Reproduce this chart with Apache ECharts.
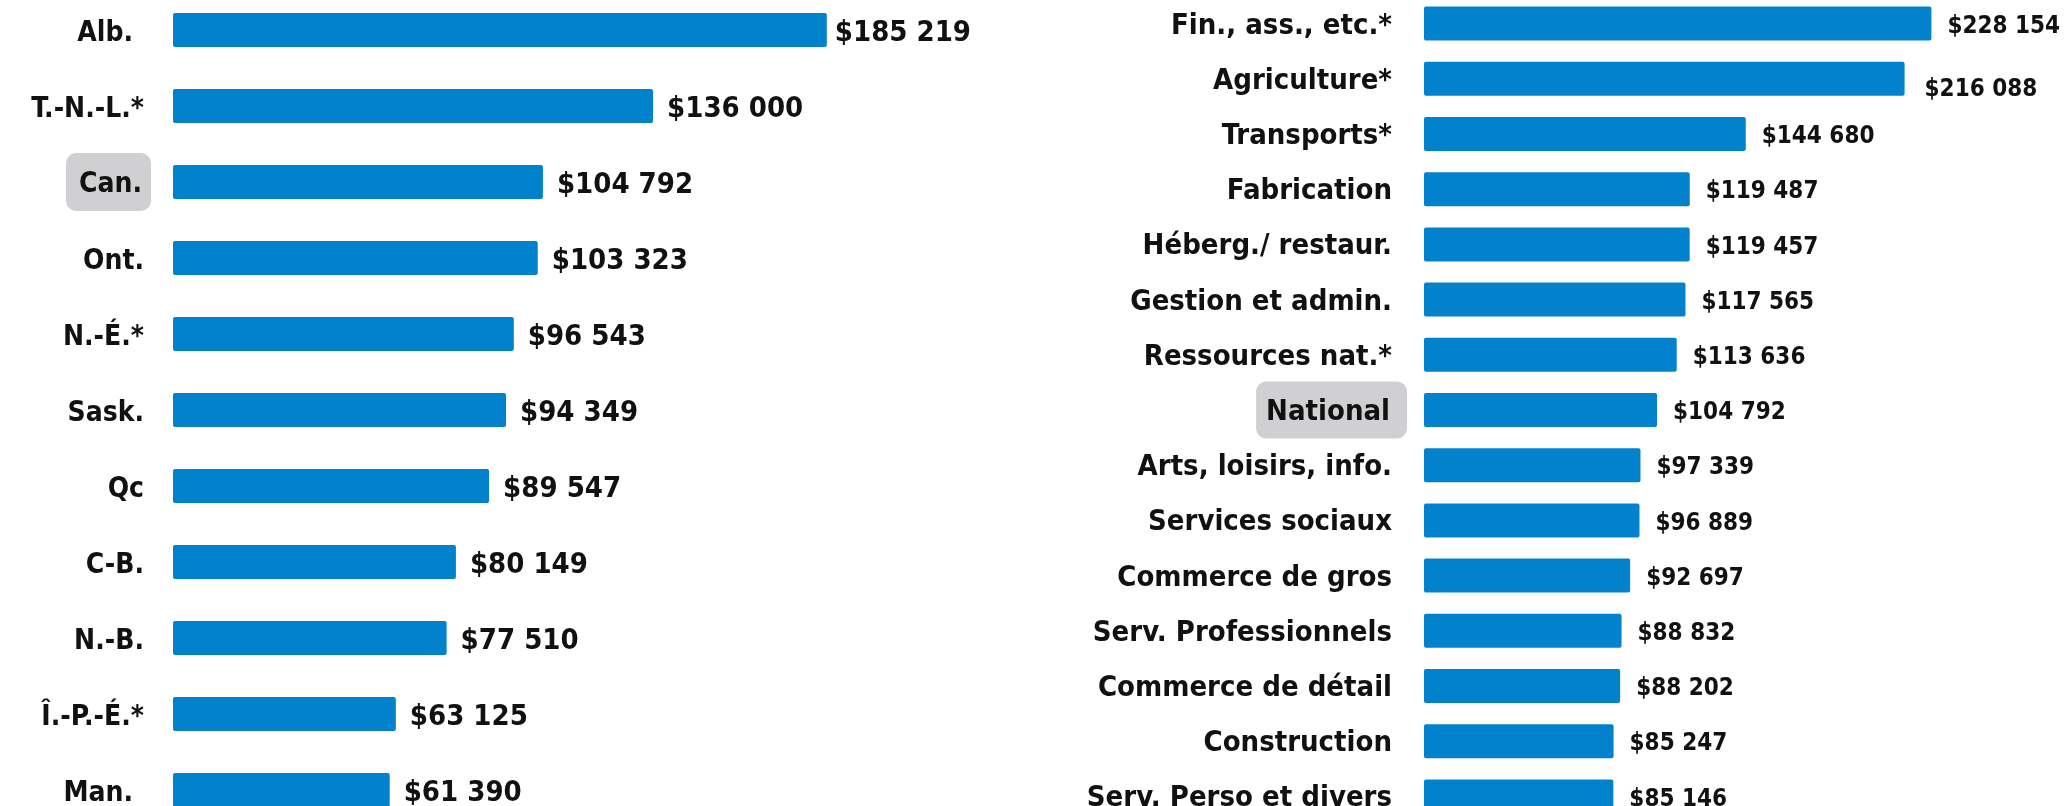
<!DOCTYPE html>
<html lang="fr">
<head>
<meta charset="UTF-8">
<title>Salaires</title>
<script src="https://cdn.jsdelivr.net/npm/echarts@6/dist/echarts.min.js"></script>
<style>
  html, body { margin: 0; padding: 0; background: #fff; }
  #main { width: 2069px; height: 806px; }
</style>
</head>
<body>
<div id="main"></div>
<script type="text/javascript">
// provinces (gauche)
var provinces = ['Alb.', 'T.-N.-L.*', 'Can.', 'Ont.', 'N.-É.*', 'Sask.', 'Qc', 'C-B.', 'N.-B.', 'Î.-P.-É.*', 'Man.'];
var provValues = [185219, 136000, 104792, 103323, 96543, 94349, 89547, 80149, 77510, 63125, 61390];

// secteurs (droite)
var secteurs = ['Fin., ass., etc.*', 'Agriculture*', 'Transports*', 'Fabrication', 'Héberg./ restaur.',
    'Gestion et admin.', 'Ressources nat.*', 'National', 'Arts, loisirs, info.', 'Services sociaux',
    'Commerce de gros', 'Serv. Professionnels', 'Commerce de détail', 'Construction', 'Serv. Perso et divers'];
var sectValues = [228154, 216088, 144680, 119487, 119457, 117565, 113636, 104792, 97339, 96889,
    92697, 88832, 88202, 85247, 85146];

var FONT = "'DejaVu Sans Condensed', 'DejaVu Sans', sans-serif";
var BLUE = '#0281cc';

function money(v) {
    return '$' + String(v).replace(/\B(?=(\d{3})+(?!\d))/g, ' ');
}

var myChart = echarts.init(document.getElementById('main'));

var leftData = provValues.map(function (v, i) {
    var d = { value: v };
    if (i === 0) d.label = { distance: 8 };
    return d;
});
var rightData = sectValues.map(function (v, i) {
    var d = { value: v };
    if (i === 1) d.label = { distance: 20, offset: [0, 11] };
    return d;
});

option = {
    animation: false,
    grid: [
        { left: 173, top: -8, width: 706, height: 836, containLabel: false, outerBoundsMode: 'none' },
        { left: 1424, top: -4, width: 556, height: 828, containLabel: false, outerBoundsMode: 'none' }
    ],
    xAxis: [
        { gridIndex: 0, type: 'value', min: 0, max: 200000, show: false },
        { gridIndex: 1, type: 'value', min: 0, max: 250000, show: false }
    ],
    yAxis: [
        {
            gridIndex: 0, type: 'category', data: provinces, inverse: true,
            axisLine: { show: false }, axisTick: { show: false },
            axisLabel: {
                margin: 22,
                formatter: function (v) {
                    if (v === 'Can.') return '{hl|' + v + '}';
                    if (v === 'Alb.' || v === 'Man.') return '{s|' + v + '}';
                    return '{n|' + v + '}';
                },
                rich: {
                    n: { fontFamily: FONT, fontWeight: 'bold', fontSize: 28, color: '#111', padding: [7, 7, 0, 0] },
                    s: { fontFamily: FONT, fontWeight: 'bold', fontSize: 28, color: '#111', padding: [7, 18, 0, 0] },
                    hl: { fontFamily: FONT, fontWeight: 'bold', fontSize: 28, color: '#111',
                        backgroundColor: '#d0d0d2', borderRadius: 10, padding: [18, 9, 12, 13] }
                }
            }
        },
        {
            gridIndex: 1, type: 'category', data: secteurs, inverse: true,
            axisLine: { show: false }, axisTick: { show: false },
            axisLabel: {
                margin: 17,
                formatter: function (v) {
                    if (v === 'National') return '{hl|' + v + '}';
                    return '{n|' + v + '}';
                },
                rich: {
                    n: { fontFamily: FONT, fontWeight: 'bold', fontSize: 29, color: '#111', padding: [5, 15, 0, 0] },
                    hl: { fontFamily: FONT, fontWeight: 'bold', fontSize: 29, color: '#111',
                        backgroundColor: '#d0d0d2', borderRadius: 10, padding: [16, 17, 12, 10] }
                }
            }
        }
    ],
    series: [
        {
            type: 'bar', xAxisIndex: 0, yAxisIndex: 0, data: leftData,
            barWidth: 34,
            itemStyle: { color: BLUE, borderRadius: 2 },
            label: {
                show: true, position: 'right', distance: 14, offset: [0, 3],
                fontFamily: FONT, fontWeight: 'bold', fontSize: 29, color: '#111',
                formatter: function (p) { return money(p.value); }
            }
        },
        {
            type: 'bar', xAxisIndex: 1, yAxisIndex: 1, data: rightData,
            barWidth: 34,
            itemStyle: { color: BLUE, borderRadius: 2 },
            label: {
                show: true, position: 'right', distance: 16, offset: [0, 3],
                fontFamily: FONT, fontWeight: 'bold', fontSize: 24, color: '#111',
                formatter: function (p) { return money(p.value); }
            }
        }
    ]
};
myChart.setOption(option);
</script>
</body>
</html>
